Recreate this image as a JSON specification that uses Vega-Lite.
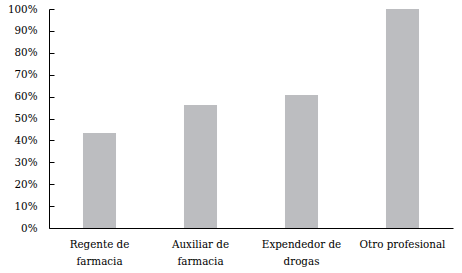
{
  "$schema": "https://vega.github.io/schema/vega-lite/v6.json",
  "autosize": "none",
  "width": 404,
  "height": 219,
  "padding": {"left": 49, "top": 9, "right": 9, "bottom": 45},
  "config": {
    "view": {"stroke": null},
    "font": "DejaVu Serif Condensed",
    "axis": {"grid": false, "domainColor": "#000000", "tickColor": "#000000", "labelColor": "#000000", "labelFont": "DejaVu Serif Condensed", "labelFontSize": 11.5, "domainWidth": 1, "tickWidth": 1}
  },
  "data": {
    "values": [
      {"categoria": "Regente de farmacia", "valor": 0.434},
      {"categoria": "Auxiliar de farmacia", "valor": 0.562},
      {"categoria": "Expendedor de drogas", "valor": 0.607},
      {"categoria": "Otro profesional", "valor": 1.0}
    ]
  },
  "mark": {"type": "bar", "color": "#bcbdc0"},
  "encoding": {
    "x": {
      "field": "categoria",
      "type": "nominal",
      "sort": null,
      "title": null,
      "scale": {"paddingInner": 0.673, "paddingOuter": 0.3365},
      "axis": {
        "ticks": false,
        "labelAngle": 0,
        "labelPadding": 10,
        "labelBaseline": "top",
        "labelLineHeight": 17,
        "labelExpr": "datum.value == 'Regente de farmacia' ? ['Regente de', 'farmacia'] : datum.value == 'Auxiliar de farmacia' ? ['Auxiliar de', 'farmacia'] : datum.value == 'Expendedor de drogas' ? ['Expendedor de', 'drogas'] : datum.value"
      }
    },
    "y": {
      "field": "valor",
      "type": "quantitative",
      "title": null,
      "scale": {"domain": [0, 1], "nice": false},
      "axis": {
        "values": [0, 0.1, 0.2, 0.3, 0.4, 0.5, 0.6, 0.7, 0.8, 0.9, 1.0],
        "format": ".0%",
        "tickSize": -5,
        "labelPadding": 17
      }
    }
  }
}
